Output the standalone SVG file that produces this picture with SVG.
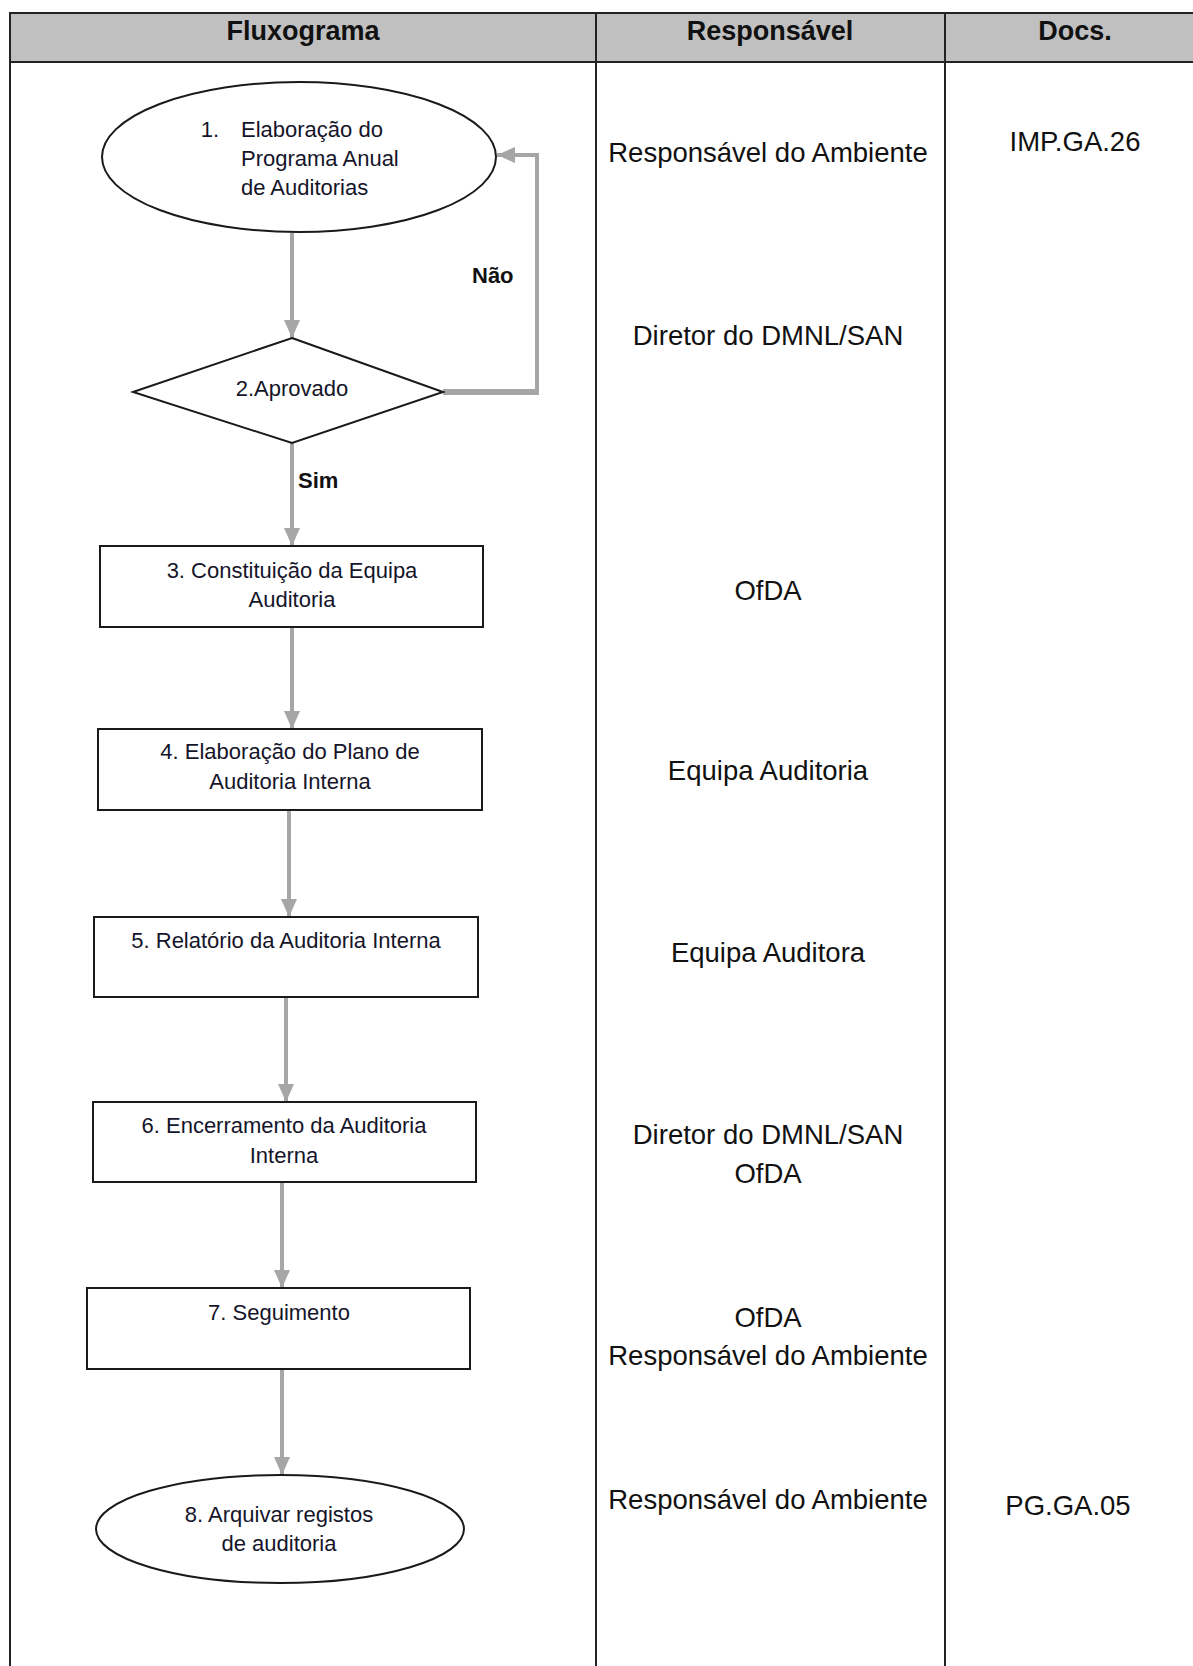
<svg xmlns="http://www.w3.org/2000/svg" width="1193" height="1666" viewBox="0 0 1193 1666">
  <defs>
    <style>
      .grid { stroke: #222; stroke-width: 2; fill: none; }
      .hdr { font-family: "Liberation Sans", Arial, sans-serif; font-weight: bold; font-size: 27px; fill: #111; text-anchor: middle; }
      .shape { fill: #fff; stroke: #1a1a1a; stroke-width: 2; }
      .ftxt { font-family: "Liberation Sans", Arial, sans-serif; font-size: 22px; fill: #15152a; text-anchor: middle; }
      .lbl { font-family: "Liberation Sans", Arial, sans-serif; font-weight: bold; font-size: 22px; fill: #111; }
      .rtxt { font-family: "Liberation Sans", Arial, sans-serif; font-size: 27.5px; fill: #111; text-anchor: middle; }
      .conn { stroke: #a6a6a6; stroke-width: 4; fill: none; }
    </style>
    <marker id="arrow" viewBox="0 0 18 16" refX="18" refY="8" markerWidth="18" markerHeight="16" markerUnits="userSpaceOnUse" orient="auto">
      <path d="M0,0 L18,8 L0,16 Z" fill="#a6a6a6"/>
    </marker>
  </defs>

  <rect width="1193" height="1666" fill="#fff"/>

  <!-- table frame -->
  <g id="table">
    <rect x="10" y="13" width="1190" height="49" fill="#c0c0c0"/>
    <line class="grid" x1="10" y1="13" x2="1193" y2="13"/>
    <line class="grid" x1="10" y1="62" x2="1193" y2="62"/>
    <line class="grid" x1="10" y1="12" x2="10" y2="1666"/>
    <line class="grid" x1="596" y1="13" x2="596" y2="1666"/>
    <line class="grid" x1="945" y1="13" x2="945" y2="1666"/>
    <text class="hdr" x="303" y="40">Fluxograma</text>
    <text class="hdr" x="770" y="40">Responsável</text>
    <text class="hdr" x="1075" y="40">Docs.</text>
  </g>

  <!-- connectors -->
  <g id="connectors">
    <line class="conn" x1="292" y1="233" x2="292" y2="338" marker-end="url(#arrow)"/>
    <line class="conn" x1="292" y1="443" x2="292" y2="546" marker-end="url(#arrow)"/>
    <line class="conn" x1="292" y1="627" x2="292" y2="729" marker-end="url(#arrow)"/>
    <line class="conn" x1="289" y1="811" x2="289" y2="917" marker-end="url(#arrow)"/>
    <line class="conn" x1="286" y1="997" x2="286" y2="1102" marker-end="url(#arrow)"/>
    <line class="conn" x1="282" y1="1183" x2="282" y2="1288" marker-end="url(#arrow)"/>
    <line class="conn" x1="282" y1="1370" x2="282" y2="1475" marker-end="url(#arrow)"/>
    <!-- "Não" loop back to step 1 -->
    <line class="conn" x1="443" y1="392" x2="539" y2="392" style="stroke-width:6"/>
    <polyline class="conn" points="537,394 537,155 497,155" marker-end="url(#arrow)"/>
    <text class="lbl" x="472" y="283">Não</text>
    <text class="lbl" x="298" y="488">Sim</text>
  </g>

  <!-- flow nodes -->
  <g id="n1">
    <ellipse class="shape" cx="299" cy="157" rx="197" ry="75"/>
    <text class="ftxt" x="210" y="137">1.</text>
    <text class="ftxt" x="241" y="137" style="text-anchor:start">Elaboração do</text>
    <text class="ftxt" x="241" y="166" style="text-anchor:start">Programa Anual</text>
    <text class="ftxt" x="241" y="195" style="text-anchor:start">de Auditorias</text>
  </g>
  <g id="n2">
    <polygon class="shape" points="292,338 443,392 292,443 133,392"/>
    <text class="ftxt" x="292" y="396">2.Aprovado</text>
  </g>
  <g id="n3">
    <rect class="shape" x="100" y="546" width="383" height="81"/>
    <text class="ftxt" x="292" y="578">3. Constituição da Equipa</text>
    <text class="ftxt" x="292" y="607">Auditoria</text>
  </g>
  <g id="n4">
    <rect class="shape" x="98" y="729" width="384" height="81"/>
    <text class="ftxt" x="290" y="759">4. Elaboração do Plano de</text>
    <text class="ftxt" x="290" y="789">Auditoria Interna</text>
  </g>
  <g id="n5">
    <rect class="shape" x="94" y="917" width="384" height="80"/>
    <text class="ftxt" x="286" y="948">5. Relatório da Auditoria Interna</text>
  </g>
  <g id="n6">
    <rect class="shape" x="93" y="1102" width="383" height="80"/>
    <text class="ftxt" x="284" y="1133">6. Encerramento da Auditoria</text>
    <text class="ftxt" x="284" y="1163">Interna</text>
  </g>
  <g id="n7">
    <rect class="shape" x="87" y="1288" width="383" height="81"/>
    <text class="ftxt" x="279" y="1320">7. Seguimento</text>
  </g>
  <g id="n8">
    <ellipse class="shape" cx="280" cy="1529" rx="184" ry="54"/>
    <text class="ftxt" x="279" y="1522">8. Arquivar registos</text>
    <text class="ftxt" x="279" y="1551">de auditoria</text>
  </g>

  <!-- responsible and document columns -->
  <g id="responsible">
    <text class="rtxt" x="768" y="162">Responsável do Ambiente</text>
    <text class="rtxt" x="768" y="345">Diretor do DMNL/SAN</text>
    <text class="rtxt" x="768" y="600">OfDA</text>
    <text class="rtxt" x="768" y="780">Equipa Auditoria</text>
    <text class="rtxt" x="768" y="962">Equipa Auditora</text>
    <text class="rtxt" x="768" y="1144">Diretor do DMNL/SAN</text>
    <text class="rtxt" x="768" y="1183">OfDA</text>
    <text class="rtxt" x="768" y="1327">OfDA</text>
    <text class="rtxt" x="768" y="1365">Responsável do Ambiente</text>
    <text class="rtxt" x="768" y="1509">Responsável do Ambiente</text>
  </g>
  <g id="docs">
    <text class="rtxt" x="1075" y="151">IMP.GA.26</text>
    <text class="rtxt" x="1068" y="1515">PG.GA.05</text>
  </g>
</svg>
